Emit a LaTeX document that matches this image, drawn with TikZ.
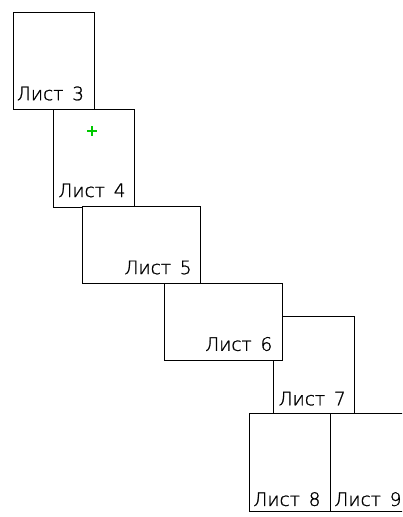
\documentclass[tikz,border=0pt]{standalone}
\usepackage{fontspec}
\newfontfamily\sheetfont[FakeBold=1.2, WordSpace=1.5]{DejaVu Sans ExtraLight}
\usetikzlibrary{calc}
\definecolor{markgreen}{RGB}{0,200,0}
\tikzset{
  sheet/.style={draw=black, fill=white, line width=1pt, inner sep=0pt, outer sep=0pt, rectangle},
  portrait/.style={sheet, minimum width=81pt, minimum height=97.5pt},
  landscape/.style={sheet, minimum width=118.5pt, minimum height=77pt},
  sheetlabel/.style={inner sep=0pt, outer sep=0pt, anchor=base east, font=\sheetfont\fontsize{18.5}{18.5}\selectfont},
  cross/.style={draw=markgreen, line width=2pt}
}
\begin{document}
\begin{tikzpicture}[x=1pt, y=-1pt]
\useasboundingbox (0,0) rectangle (402,517);
\clip (0,0) rectangle (402,517);
% sheets (sheet 7 lies under sheet 6)
\node[portrait, anchor=north west] (s3) at (13,12) {};
\node[portrait, anchor=north west] (s4) at (53,109.5) {};
\node[landscape, anchor=north west] (s5) at (82.3,206.8) {};
\node[portrait, anchor=north west] (s7) at (273.7,316.5) {};
\node[landscape, anchor=north west] (s6) at (164.3,283.8) {};
\node[portrait, anchor=north west] (s8) at (249,413.7) {};
\node[portrait, anchor=north west] (s9) at (330,413.7) {};
% labels
\node[sheetlabel] (l3) at ($(s3.south east)+(-10,-9.3)$) {Лист 3};
\node[sheetlabel] (l4) at ($(s4.south east)+(-8.5,-10)$) {Лист 4};
\node[sheetlabel] (l5) at ($(s5.south east)+(-9.2,-9.7)$) {Лист 5};
\node[sheetlabel] (l6) at ($(s6.south east)+(-10.5,-10)$) {Лист 6};
\node[sheetlabel] (l7) at ($(s7.south east)+(-9,-8.7)$) {Лист 7};
\node[sheetlabel] (l8) at ($(s8.south east)+(-9.5,-5.3)$) {Лист 8};
\node[sheetlabel] (l9) at ($(s9.south east)+(-9.5,-5.3)$) {Лист 9};
% green marker
\coordinate (mark) at (92.3,131);
\draw[cross] ($(mark)+(0,-5)$) -- ($(mark)+(0,5)$) ($(mark)+(-5,0)$) -- ($(mark)+(5,0)$);
\end{tikzpicture}
\end{document}
